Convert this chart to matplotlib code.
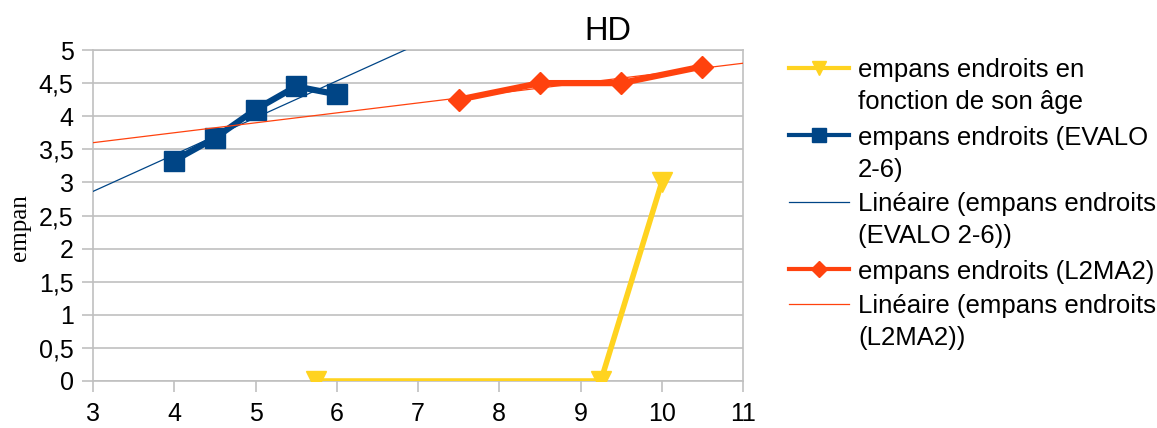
import numpy as np
import matplotlib
matplotlib.use("Agg")
import matplotlib.pyplot as plt
from matplotlib.lines import Line2D
from matplotlib.ticker import FuncFormatter, MultipleLocator

# ── data ─────────────────────────────────────────────────────────
age_x = [5.75, 9.25, 10]
age_y = [0, 0, 3]

evalo_x = [4, 4.5, 5, 5.5, 6]
evalo_y = [3.33, 3.67, 4.1, 4.45, 4.33]

l2ma2_x = [7.5, 8.5, 9.5, 10.5]
l2ma2_y = [4.25, 4.5, 4.5, 4.75]

labels = [
    "empans endroits en\nfonction de son âge",
    "empans endroits (EVALO\n2-6)",
    "Linéaire (empans endroits\n(EVALO 2-6))",
    "empans endroits (L2MA2)",
    "Linéaire (empans endroits\n(L2MA2))",
]

YELLOW = "#ffd320"
BLUE = "#004586"
ORANGE = "#ff420e"
GRID = "#c0c0c0"

W, H = 1157, 428

plt.rcParams["font.family"] = ["Liberation Sans", "DejaVu Sans"]

fig = plt.figure(figsize=(W / 100, H / 100), dpi=100)
ax = fig.add_axes([93 / W, 1 - 381 / H, 650 / W, 331 / H])

# trend lines (least squares over each series, across the whole x range)
xs = np.linspace(3, 11, 200)
b_fit = np.polyfit(evalo_x, evalo_y, 1)
o_fit = np.polyfit(l2ma2_x, l2ma2_y, 1)

ax.plot(age_x, age_y, color=YELLOW, lw=4, marker="v", ms=14.5,
        mec=YELLOW, zorder=3)
ax.plot(evalo_x, evalo_y, color=BLUE, lw=4.5, marker="s", ms=14.5,
        mec=BLUE, zorder=3)
ax.plot(xs, np.polyval(b_fit, xs), color=BLUE, lw=0.9, zorder=4)
ax.plot(l2ma2_x, l2ma2_y, color=ORANGE, lw=4.5, marker="D", ms=11,
        mec=ORANGE, zorder=3)
ax.plot(xs, np.polyval(o_fit, xs), color=ORANGE, lw=0.9, zorder=4)

ax.set_xlim(3, 11)
ax.set_ylim(0, 5)
ax.xaxis.set_major_locator(MultipleLocator(1))
ax.yaxis.set_major_locator(MultipleLocator(0.5))
ax.yaxis.set_major_formatter(
    FuncFormatter(lambda v, p: ("%g" % v).replace(".", ",")))
ax.tick_params(axis="both", labelsize=18, color=GRID, length=8, width=1.2)
ax.tick_params(axis="x", pad=7)
ax.tick_params(axis="y", pad=6)
ax.grid(axis="y", color=GRID, lw=1.2)
ax.set_axisbelow(True)
for s in ax.spines.values():
    s.set_color(GRID)
    s.set_linewidth(1.2)

fig.text(20 / W, 1 - 228 / H, "empan", rotation=90, ha="center",
         va="center", family=["Liberation Serif", "DejaVu Serif"],
         fontsize=18)

fig.text(608 / W, 1 - 32 / H, "HD", fontsize=23.5, ha="center",
         va="center")

# ── legend, drawn by hand so each key sits on the first text line ──
keys = [
    dict(color=YELLOW, lw=3, marker="v", ms=10, mec=YELLOW),
    dict(color=BLUE, lw=3, marker="s", ms=10, mec=BLUE),
    dict(color=BLUE, lw=0.9),
    dict(color=ORANGE, lw=3, marker="D", ms=8, mec=ORANGE),
    dict(color=ORANGE, lw=0.9),
]
line_h, gap = 32, 35
y = 68
for key, text in zip(keys, labels):
    fy = 1 - y / H
    fig.add_artist(Line2D([789 / W, 849 / W], [fy, fy], transform=fig.transFigure,
                          **{k: v for k, v in key.items() if k != "marker" and k != "ms" and k != "mec"}))
    if "marker" in key:
        fig.add_artist(Line2D([819 / W], [fy], transform=fig.transFigure,
                              ls="none", marker=key["marker"], ms=key["ms"],
                              color=key["color"], mec=key["mec"]))
    for i, part in enumerate(text.split("\n")):
        fig.text(858 / W, 1 - (y + i * line_h) / H, part, fontsize=18.5,
                 ha="left", va="center_baseline")
    y += (text.count("\n")) * line_h + gap

fig.savefig("out.png", dpi=100)
